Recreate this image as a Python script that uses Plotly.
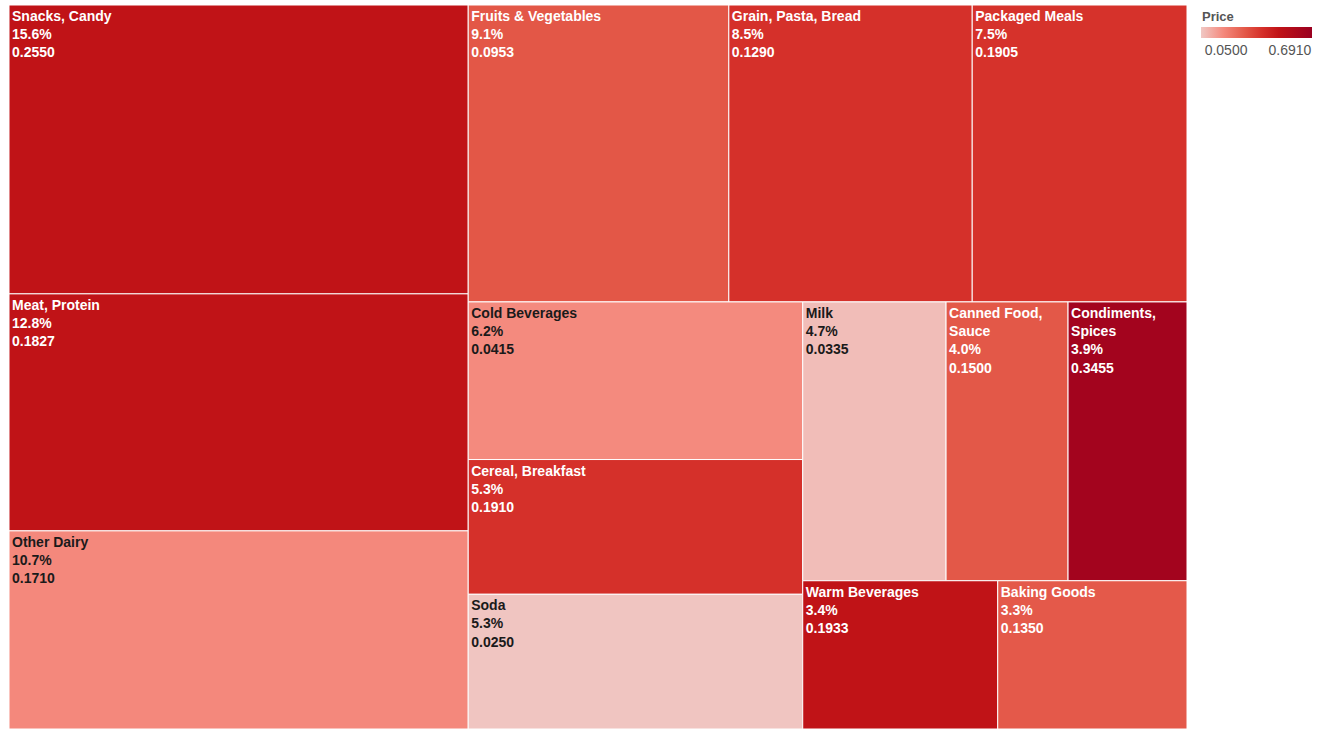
import plotly.graph_objects as go

categories = ["Snacks, Candy", "Meat, Protein", "Other Dairy", "Fruits & Vegetables",
              "Grain, Pasta, Bread", "Packaged Meals", "Cold Beverages", "Cereal, Breakfast",
              "Soda", "Milk", "Canned Food, Sauce", "Condiments, Spices", "Warm Beverages",
              "Baking Goods"]
share_pct = [15.6, 12.8, 10.7, 9.1, 8.5, 7.5, 6.2, 5.3, 5.3, 4.7, 4.0, 3.9, 3.4, 3.3]
value_shown = [0.2550, 0.1827, 0.1710, 0.0953, 0.1290, 0.1905, 0.0415, 0.1910,
               0.0250, 0.0335, 0.1500, 0.3455, 0.1933, 0.1350]
# colour measure (Price) estimated from the tile shading
price_color = [0.499, 0.500, 0.180, 0.306, 0.403, 0.398, 0.176, 0.403,
               0.056, 0.072, 0.305, 0.646, 0.501, 0.300]
price_min, price_max = 0.0500, 0.6910
legend_labels = ["0.0500", "0.6910"]
wrapped = ["Canned Food, Sauce", "Condiments, Spices"]

tile_text = [c.replace(", ", ",<br>") if c in wrapped else c for c in categories]
text_colors = ["#1a1a1a" if p < 0.2 else "white" for p in price_color]

colorscale = [
    [0.0, "#F0C8C4"],
    [0.2, "#F4897D"],
    [0.4, "#E35747"],
    [0.55, "#D5302A"],
    [0.7, "#C01317"],
    [1.0, "#9A0020"],
]

# legend label placement inside the colour bar (left label under start, right under end)
span = price_max - price_min
legend_tickvals = [price_min + 0.23 * span, price_min + 0.805 * span]

fig = go.Figure(go.Treemap(
    labels=categories,
    parents=[""] * len(categories),
    values=share_pct,
    text=tile_text,
    customdata=[[s, v] for s, v in zip(share_pct, value_shown)],
    texttemplate="<b>%{text}<br>%{customdata[0]:.1f}%<br>%{customdata[1]:.4f}</b>",
    hovertemplate="%{label}<br>%{customdata[0]:.1f}%<br>%{customdata[1]:.4f}<extra></extra>",
    textposition="top left",
    textfont=dict(family="Arial", size=14, color=text_colors),
    sort=True,
    tiling=dict(squarifyratio=1.618, pad=0),
    pathbar=dict(visible=False),
    marker=dict(
        colors=price_color,
        colorscale=colorscale,
        cmin=price_min,
        cmax=price_max,
        showscale=True,
        line=dict(color="white", width=1),
        pad=dict(t=0, l=0, r=0, b=0),
        colorbar=dict(
            orientation="h",
            x=1.0586, xanchor="center",
            y=0.9696, yanchor="top",
            len=111, lenmode="pixels",
            thickness=11,
            xpad=0, ypad=0,
            outlinewidth=0,
            tickvals=legend_tickvals,
            ticktext=legend_labels,
            ticks="",
            ticklen=0,
            tickfont=dict(family="Arial", size=14, color="#555555"),
        ),
    ),
))

fig.add_annotation(
    text="<b>Price</b>", xref="paper", yref="paper",
    x=1.011, y=0.9848, xanchor="left", yanchor="middle",
    showarrow=False, font=dict(family="Arial", size=13, color="#555555"),
)

fig.update_layout(
    width=1329, height=729,
    margin=dict(l=9, r=142, t=5, b=0),
    paper_bgcolor="white",
    font=dict(family="Arial"),
)

fig.write_html("out.html", config={"displayModeBar": False},
               post_script="document.body.style.margin='0';")
